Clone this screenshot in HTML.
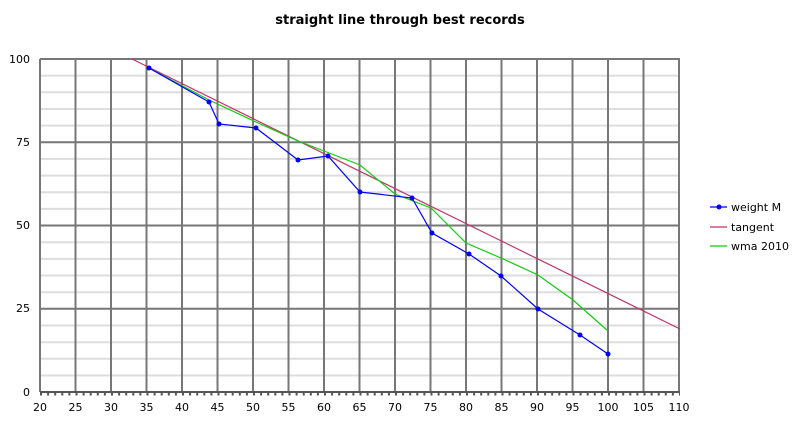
<!DOCTYPE html>
<html><head><style>html,body{margin:0;padding:0;background:#fff}</style></head><body>
<svg width="800" height="420" xmlns="http://www.w3.org/2000/svg" font-family="'DejaVu Sans','Liberation Sans',sans-serif" font-size="11">
<text x="400" y="24" text-anchor="middle" font-weight="bold" font-size="13">straight line through best records</text>
<g stroke="#ddd" stroke-width="2">
<line x1="40" x2="680" y1="75.6" y2="75.6"/><line x1="40" x2="680" y1="92.3" y2="92.3"/><line x1="40" x2="680" y1="109" y2="109"/><line x1="40" x2="680" y1="125.6" y2="125.6"/>
<line x1="40" x2="680" y1="158.9" y2="158.9"/><line x1="40" x2="680" y1="175.6" y2="175.6"/><line x1="40" x2="680" y1="192.2" y2="192.2"/><line x1="40" x2="680" y1="208.9" y2="208.9"/>
<line x1="40" x2="680" y1="242.2" y2="242.2"/><line x1="40" x2="680" y1="258.9" y2="258.9"/><line x1="40" x2="680" y1="275.5" y2="275.5"/><line x1="40" x2="680" y1="292.2" y2="292.2"/>
<line x1="40" x2="680" y1="325.5" y2="325.5"/><line x1="40" x2="680" y1="342.2" y2="342.2"/><line x1="40" x2="680" y1="358.8" y2="358.8"/><line x1="40" x2="680" y1="375.5" y2="375.5"/>
</g>
<g stroke="#777" stroke-width="2">
<line x1="40" x2="680" y1="59" y2="59"/><line x1="40" x2="680" y1="142.3" y2="142.3"/><line x1="40" x2="680" y1="225.5" y2="225.5"/><line x1="40" x2="680" y1="308.8" y2="308.8"/>
<line x1="40" x2="40" y1="59" y2="392"/><line x1="75.5" x2="75.5" y1="59" y2="392"/><line x1="111" x2="111" y1="59" y2="392"/><line x1="146.5" x2="146.5" y1="59" y2="392"/><line x1="182" x2="182" y1="59" y2="392"/><line x1="217.5" x2="217.5" y1="59" y2="392"/><line x1="253" x2="253" y1="59" y2="392"/><line x1="288.5" x2="288.5" y1="59" y2="392"/><line x1="324" x2="324" y1="59" y2="392"/><line x1="359.5" x2="359.5" y1="59" y2="392"/><line x1="395" x2="395" y1="59" y2="392"/><line x1="430.5" x2="430.5" y1="59" y2="392"/><line x1="466" x2="466" y1="59" y2="392"/><line x1="501.5" x2="501.5" y1="59" y2="392"/><line x1="537" x2="537" y1="59" y2="392"/><line x1="572.5" x2="572.5" y1="59" y2="392"/><line x1="608" x2="608" y1="59" y2="392"/><line x1="643.5" x2="643.5" y1="59" y2="392"/><line x1="679" x2="679" y1="59" y2="392"/>
</g>
<line x1="40" x2="680" y1="392" y2="392" stroke="#555" stroke-width="2"/>
<line x1="40" x2="680" y1="394" y2="394" stroke="#555" stroke-width="3" stroke-dasharray="2 5.1"/>
<g text-anchor="end"><text x="30" y="63">100</text><text x="30" y="146">75</text><text x="30" y="229">50</text><text x="30" y="312">25</text><text x="30" y="396">0</text></g>
<g text-anchor="middle"><text x="40" y="411">20</text><text x="75.5" y="411">25</text><text x="111" y="411">30</text><text x="146.5" y="411">35</text><text x="182" y="411">40</text><text x="217.5" y="411">45</text><text x="253" y="411">50</text><text x="288.5" y="411">55</text><text x="324" y="411">60</text><text x="359.5" y="411">65</text><text x="395" y="411">70</text><text x="430.5" y="411">75</text><text x="466" y="411">80</text><text x="501.5" y="411">85</text><text x="537" y="411">90</text><text x="572.5" y="411">95</text><text x="608" y="411">100</text><text x="643.5" y="411">105</text><text x="679" y="411">110</text></g>
<line x1="132" y1="59" x2="680" y2="329" stroke="#c0336b" stroke-width="1.2"/>
<polyline fill="none" stroke="#1c1" stroke-width="1.2" points="149,68 209,100 256,122 298,141 324,151 360,165 395,194 431,208 466,243 501,258 538,275 573,300 608,331"/>
<polyline fill="none" stroke="#00f" stroke-width="1.2" points="149,68 209,102 219,124 256,128 298,160 328,156 360,192 412,198 432,233 469,254 501,276 538,309 580,335 608,354"/>
<g fill="#00f"><circle cx="149" cy="68" r="2.5"/><circle cx="209" cy="102" r="2.5"/><circle cx="219" cy="124" r="2.5"/><circle cx="256" cy="128" r="2.5"/><circle cx="298" cy="160" r="2.5"/><circle cx="328" cy="156" r="2.5"/><circle cx="360" cy="192" r="2.5"/><circle cx="412" cy="198" r="2.5"/><circle cx="432" cy="233" r="2.5"/><circle cx="469" cy="254" r="2.5"/><circle cx="501" cy="276" r="2.5"/><circle cx="538" cy="309" r="2.5"/><circle cx="580" cy="335" r="2.5"/><circle cx="608" cy="354" r="2.5"/></g>
<line x1="710" x2="727" y1="207" y2="207" stroke="#00f" stroke-width="1.2"/><circle cx="719" cy="207" r="2.5" fill="#00f"/>
<line x1="710" x2="727" y1="227" y2="227" stroke="#c0336b" stroke-width="1.2"/>
<line x1="710" x2="727" y1="246" y2="246" stroke="#1c1" stroke-width="1.2"/>
<text x="731" y="211">weight M</text><text x="731" y="231">tangent</text><text x="731" y="250">wma 2010</text>
</svg>
</body></html>
